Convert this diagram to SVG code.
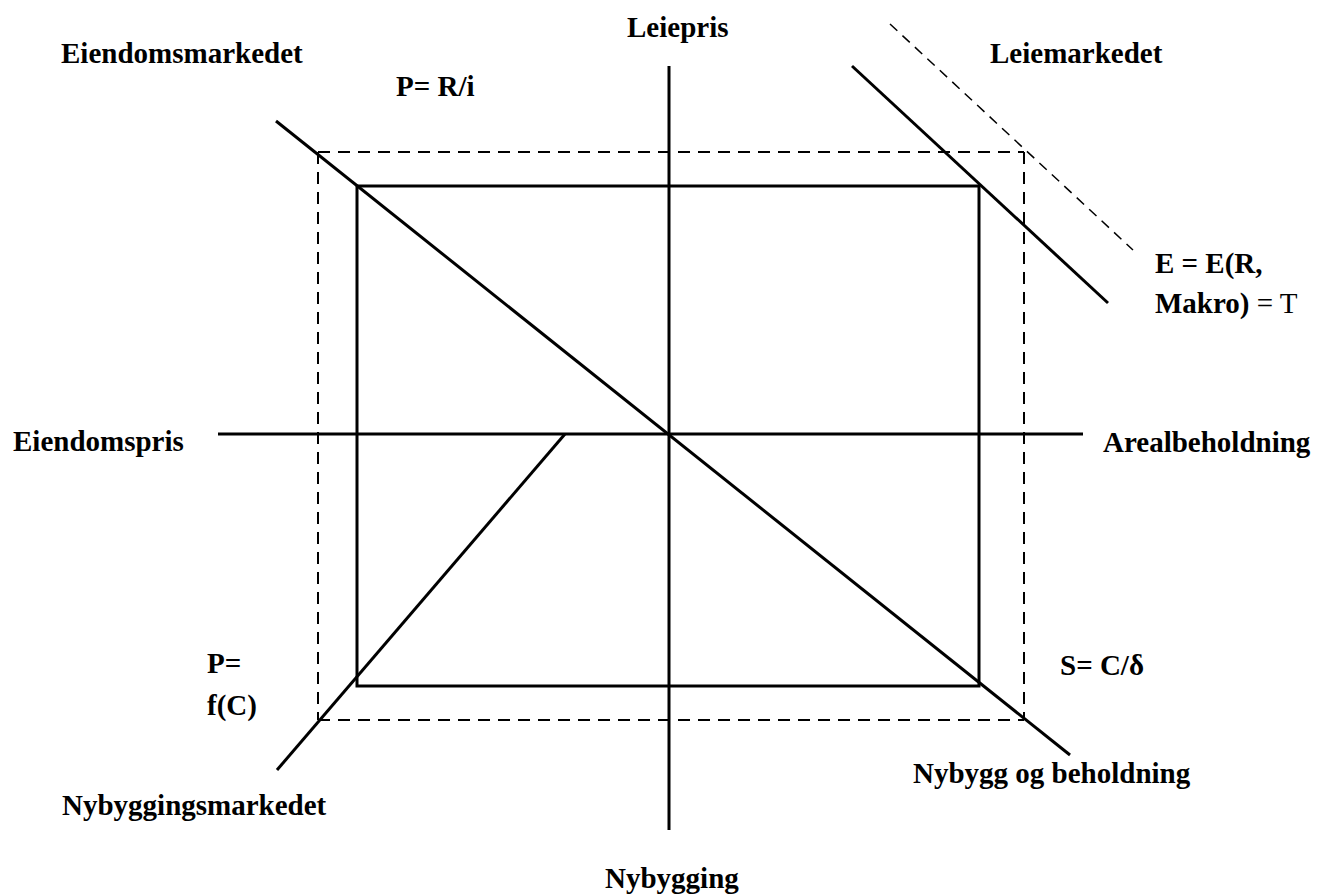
<svg xmlns="http://www.w3.org/2000/svg" width="1317" height="895" viewBox="0 0 1317 895">
<style>
text{font-family:'Liberation Serif','Times New Roman',Tinos,'DejaVu Serif',serif;font-weight:700;font-size:29px;fill:#000}
.n{font-weight:400}
.s{stroke:#000;stroke-width:3;fill:none}
.d{stroke:#000;stroke-width:2;fill:none;stroke-dasharray:12 8}
.dl{stroke:#000;stroke-width:1.5;fill:none;stroke-dasharray:10 7}
</style>
<rect width="1317" height="895" fill="#fff"/>
<g id="connectors">
<line class="d" x1="318" y1="152" x2="1024" y2="152"/>
<line class="d" x1="318" y1="152" x2="318" y2="720"/>
<line class="d" x1="1024" y1="152" x2="1024" y2="720"/>
<line class="d" x1="318" y1="720" x2="1024" y2="720"/>
<rect class="s" x="357" y="186" width="622" height="500"/>
<line class="s" x1="669" y1="66" x2="669" y2="830"/>
<line class="s" x1="218" y1="434" x2="1083" y2="434"/>
<line class="s" x1="276" y1="121" x2="1070" y2="755"/>
<line class="s" x1="852" y1="66" x2="1108" y2="303"/>
<line class="dl" x1="890" y1="24" x2="1133" y2="250"/>
<line class="s" x1="565" y1="434" x2="277" y2="770"/>
</g>
<g id="labels">
<text x="61" y="63" font-family="Liberation Serif">Eiendomsmarkedet</text>
<text x="627" y="37" font-family="Liberation Serif">Leiepris</text>
<text x="990" y="63" font-family="Liberation Serif">Leiemarkedet</text>
<text x="396" y="96" font-family="Liberation Serif">P= R/i</text>
<text x="1155" y="273" font-family="Liberation Serif">E = E(R,</text>
<text x="1155" y="313" font-family="Liberation Serif">Makro)<tspan class="n"> = T</tspan></text>
<text x="13" y="451" font-family="Liberation Serif">Eiendomspris</text>
<text x="1103" y="452" font-family="Liberation Serif">Arealbeholdning</text>
<text x="207" y="673" font-family="Liberation Serif">P=</text>
<text x="207" y="715" font-family="Liberation Serif">f(C)</text>
<text x="1060" y="675" font-family="Liberation Serif">S= C/δ</text>
<text x="62" y="815" font-family="Liberation Serif">Nybyggingsmarkedet</text>
<text x="913" y="783" font-family="Liberation Serif">Nybygg og beholdning</text>
<text x="605" y="888" font-family="Liberation Serif">Nybygging</text>
</g>
</svg>
